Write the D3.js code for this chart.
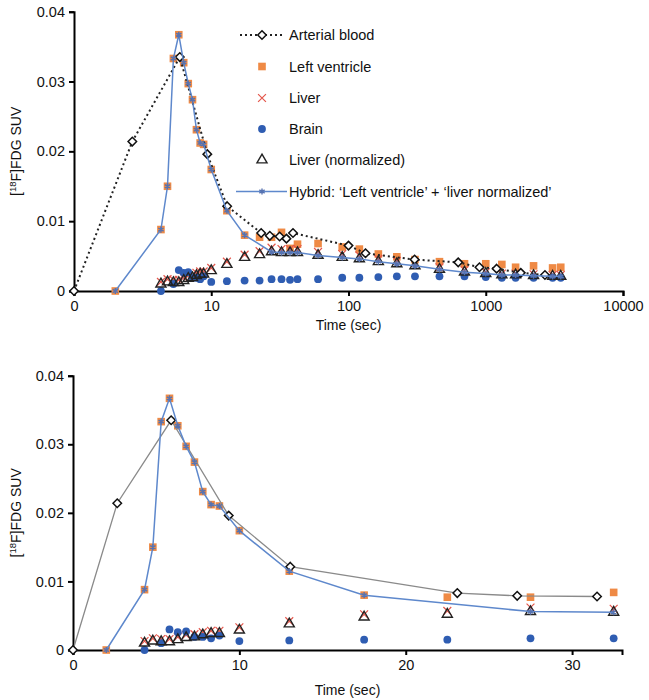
<!DOCTYPE html>
<html>
<head>
<meta charset="utf-8">
<script src="https://cdn.jsdelivr.net/npm/d3@7"></script>
<style>
  html, body { margin: 0; padding: 0; background: #fff; }
  svg { display: block; font-family: "Liberation Sans", Arial, Helvetica, sans-serif; }
</style>
</head>
<body>
<svg id="chart" width="649" height="700"></svg>
<script>
// ---------------- DATA ----------------
const tissueTime      = [2.0, 4.3, 4.8, 5.3, 5.8, 6.3, 6.8, 7.3, 7.8, 8.3, 8.8, 10, 13, 17.5, 22.5, 27.5, 32.5, 37.5, 42.5, 60, 90, 120, 165, 225, 305, 460, 700, 1000, 1310, 1650, 2230, 3070, 3520];
const leftVentricle   = [0, 0.0088, 0.0150, 0.0333, 0.0367, 0.0327, 0.0297, 0.0274, 0.0231, 0.0212, 0.0210, 0.0174, 0.0115, 0.0080, 0.0077, 0.0077, 0.0084, 0.0061, 0.0067, 0.0068, 0.0063, 0.0060, 0.0053, 0.0049, 0.0045, 0.0042, 0.0039, 0.0039, 0.0038, 0.0034, 0.0036, 0.0033, 0.0034];
const liver           = [null, 0.0013, 0.0017, 0.0016, 0.0016, 0.0019, 0.0022, 0.0023, 0.0026, 0.0028, 0.0028, 0.0033, 0.0042, 0.0052, 0.0057, 0.0062, 0.0060, 0.0060, 0.0060, 0.0056, 0.0053, 0.0051, 0.0046, 0.0043, 0.0040, 0.0034, 0.0030, 0.0027, 0.0025, 0.0025, 0.0024, 0.0023, 0.0023];
const brain           = [null, 0.0000, null, 0.0010, 0.0030, 0.0026, 0.0027, 0.0019, 0.0019, 0.0017, 0.0021, 0.0013, 0.0014, 0.0015, 0.0015, 0.0017, 0.0017, 0.0016, 0.0017, 0.0017, 0.0019, 0.0019, 0.0020, 0.0021, 0.0021, 0.0021, 0.0021, 0.0020, 0.0019, 0.0019, 0.0019, 0.0019, 0.0019];
const liverNormalized = [null, 0.0010, 0.0013, 0.0012, 0.0012, 0.0015, 0.0018, 0.0019, 0.0022, 0.0024, 0.0024, 0.0029, 0.0038, 0.0048, 0.0052, 0.0056, 0.0055, 0.0055, 0.0055, 0.0051, 0.0048, 0.0046, 0.0042, 0.0039, 0.0036, 0.0031, 0.0027, 0.0025, 0.0023, 0.0023, 0.0022, 0.0021, 0.0021];
const hybrid          = [0, 0.0088, 0.0150, 0.0333, 0.0367, 0.0327, 0.0297, 0.0274, 0.0231, 0.0212, 0.0210, 0.0174, 0.0115, 0.0080, null, 0.0056, 0.0055, 0.0055, 0.0055, 0.0051, 0.0048, 0.0046, 0.0042, 0.0039, 0.0036, 0.0031, 0.0027, 0.0025, 0.0023, 0.0023, 0.0022, 0.0021, 0.0021];

const arterialTime    = [0, 2.66, 5.9, 9.36, 13.06, 23.1, 26.7, 31.5, 35.3, 39.4, 100, 133, 303, 630, 900, 1200, 1800, 2700];
const arterialBlood   = [0, 0.0214, 0.0335, 0.0196, 0.01215, 0.0083, 0.0079, 0.0078, 0.0075, 0.0083, 0.0065, 0.0054, 0.0045, 0.0041, 0.0034, 0.0032, 0.0026, 0.0023];

const topTickValues   = [1, 10, 100, 1000, 10000];
const topTickLabels   = ["0", "10", "100", "1000", "10000"];
const bottomTicks     = [0, 10, 20, 30];
const yTicks          = [0, 0.01, 0.02, 0.03, 0.04];
const legendLabels    = ["Arterial blood", "Left ventricle", "Liver", "Brain", "Liver (normalized)", "Hybrid: \u2018Left ventricle\u2019 + \u2018liver normalized\u2019"];

// ---------------- STYLE ----------------
const C = {
  lv: "#EF8A45", liver: "#E4574C", brain: "#2F5DB2", tri: "#222",
  hybrid: "#5E88CC", hybridMark: "#5873B0", art: "#222", artGray: "#8a8a8a"
};
const S = { square: 58, x: 42, tri: 44, diamond: 46, ast: 26, r: 3.9 };

const svg = d3.select("#chart");

function zip(ts, vs) {
  return ts.map((t, i) => ({ t, v: vs[i] })).filter(d => d.v !== null && d.v !== undefined);
}

function drawPanel(g, x, y, xVal, opts) {
  const keep = d => opts.maxT === undefined || d.t <= opts.maxT;
  const lvD = zip(tissueTime, leftVentricle).filter(keep);
  const liD = zip(tissueTime, liver).filter(keep);
  const brD = zip(tissueTime, brain).filter(keep);
  const lnD = zip(tissueTime, liverNormalized).filter(keep);
  const hyD = zip(tissueTime, hybrid).filter(keep);
  const arD = zip(arterialTime, arterialBlood).filter(keep);

  const X = d => x(xVal(d.t)), Y = d => y(d.v);
  const line = d3.line().x(X).y(Y);

  // LV squares
  g.append("g").selectAll("path").data(lvD).join("path")
    .attr("transform", d => `translate(${X(d)},${Y(d)})`)
    .attr("d", d3.symbol(d3.symbolSquare, S.square)())
    .attr("fill", C.lv);
  // Liver x
  g.append("g").selectAll("path").data(liD).join("path")
    .attr("transform", d => `translate(${X(d)},${Y(d)})`)
    .attr("d", d3.symbol(d3.symbolX, S.x)())
    .attr("fill", "none").attr("stroke", C.liver).attr("stroke-width", 1.2);
  // Brain circles
  g.append("g").selectAll("circle").data(brD).join("circle")
    .attr("cx", X).attr("cy", Y).attr("r", S.r).attr("fill", C.brain);
  // Liver normalized triangles
  g.append("g").selectAll("path").data(lnD).join("path")
    .attr("transform", d => `translate(${X(d)},${Y(d)})`)
    .attr("d", d3.symbol(d3.symbolTriangle, S.tri)())
    .attr("fill", "none").attr("stroke", C.tri).attr("stroke-width", 1.4);
  // Arterial line + diamonds
  g.append("path").datum(arD).attr("d", line).attr("fill", "none")
    .attr("stroke", opts.dotted ? C.art : C.artGray)
    .attr("stroke-width", opts.dotted ? 2 : 1.3)
    .attr("stroke-dasharray", opts.dotted ? "2,3" : null);
  g.append("g").selectAll("path").data(arD).join("path")
    .attr("transform", d => `translate(${X(d)},${Y(d)})`)
    .attr("d", d3.symbol(d3.symbolDiamond2, S.diamond)())
    .attr("fill", "#fff").attr("stroke", "#111").attr("stroke-width", 1.5);
  // Hybrid line + markers
  g.append("path").datum(hyD).attr("d", line).attr("fill", "none")
    .attr("stroke", C.hybrid).attr("stroke-width", 1.5);
  g.append("g").selectAll("path").data(hyD).join("path")
    .attr("transform", d => `translate(${X(d)},${Y(d)})`)
    .attr("d", d3.symbol(d3.symbolAsterisk, S.ast)())
    .attr("fill", "none").attr("stroke", C.hybridMark).attr("stroke-width", 1.4);
}

function drawAxes(g, x, y, xAxis, y0, x0, x1, ytop, titleY) {
  const ya = g.append("g").attr("transform", `translate(${x0},0)`)
    .call(d3.axisLeft(y).tickValues(yTicks).tickFormat(d => d === 0 ? "0" : d3.format(".2f")(d)).tickSizeOuter(0).tickSize(5));
  const xa = g.append("g").attr("transform", `translate(0,${y0})`).call(xAxis);
  [ya, xa].forEach(a => {
    a.selectAll("path.domain").attr("stroke", "#000").attr("stroke-width", 2);
    a.selectAll(".tick line").attr("stroke", "#000").attr("stroke-width", 2);
    a.selectAll("text").attr("font-size", 14.5).attr("fill", "#111")
      .attr("font-family", "'Liberation Sans', Arial, sans-serif");
  });
  ya.selectAll("text").attr("x", -9);
  xa.selectAll("text").attr("y", 10);
  g.append("text").attr("x", (x0 + x1) / 2).attr("y", titleY)
    .attr("text-anchor", "middle").attr("font-size", 14).attr("fill", "#111").text("Time (sec)");
  const yl = g.append("text")
    .attr("transform", `translate(21,${(y0 + ytop) / 2}) rotate(-90)`)
    .attr("text-anchor", "middle").attr("font-size", 14).attr("fill", "#111");
  yl.append("tspan").text("[");
  yl.append("tspan").attr("font-size", 9.5).attr("dy", -5).text("18");
  yl.append("tspan").attr("dy", 5).text("F]FDG SUV");
}

// ---------------- TOP PANEL (log time) ----------------
const xTop = d3.scaleLog().domain([1, 10000]).range([74, 623]);
const yTop = d3.scaleLinear().domain([0, 0.04]).range([291, 11.7]);
const gTop = svg.append("g");
drawAxes(gTop, xTop, yTop,
  d3.axisBottom(xTop).tickValues(topTickValues).tickFormat((d, i) => topTickLabels[i]).tickSizeOuter(0).tickSize(5),
  291, 74, 623, 11.7, 330);
drawPanel(gTop, xTop, yTop, t => Math.max(t, 1), { dotted: true });

// Legend
const leg = gTop.append("g");
const legY = [35, 66.5, 98, 129, 160, 191.5];
legendLabels.forEach((lab, i) => {
  leg.append("text").attr("x", 289).attr("y", legY[i]).attr("dy", "0.36em")
    .attr("font-size", 14.5).attr("fill", "#111").text(lab);
});
leg.append("line").attr("x1", 240).attr("x2", 284).attr("y1", legY[0]).attr("y2", legY[0])
  .attr("stroke", C.art).attr("stroke-width", 2).attr("stroke-dasharray", "2,3");
leg.append("path").attr("transform", `translate(262,${legY[0]})`).attr("d", d3.symbol(d3.symbolDiamond2, S.diamond)())
  .attr("fill", "#fff").attr("stroke", "#111").attr("stroke-width", 1.5);
leg.append("path").attr("transform", `translate(262,${legY[1]})`).attr("d", d3.symbol(d3.symbolSquare, S.square)()).attr("fill", C.lv);
leg.append("path").attr("transform", `translate(262,${legY[2]})`).attr("d", d3.symbol(d3.symbolX, S.x)())
  .attr("fill", "none").attr("stroke", C.liver).attr("stroke-width", 1.2);
leg.append("circle").attr("cx", 262).attr("cy", legY[3]).attr("r", S.r).attr("fill", C.brain);
leg.append("path").attr("transform", `translate(262,${legY[4]})`).attr("d", d3.symbol(d3.symbolTriangle, S.tri)())
  .attr("fill", "none").attr("stroke", C.tri).attr("stroke-width", 1.4);
leg.append("line").attr("x1", 236).attr("x2", 287).attr("y1", legY[5]).attr("y2", legY[5])
  .attr("stroke", C.hybrid).attr("stroke-width", 1.5);
leg.append("path").attr("transform", `translate(262,${legY[5]})`).attr("d", d3.symbol(d3.symbolAsterisk, S.ast)())
  .attr("fill", "none").attr("stroke", C.hybridMark).attr("stroke-width", 1.4);

// ---------------- BOTTOM PANEL (linear time) ----------------
const xBot = d3.scaleLinear().domain([0, 33]).range([73, 622]);
const yBot = d3.scaleLinear().domain([0, 0.04]).range([650, 375.7]);
const gBot = svg.append("g");
drawAxes(gBot, xBot, yBot,
  d3.axisBottom(xBot).tickValues(bottomTicks).tickFormat(d3.format("d")).tickSizeOuter(0).tickSize(5),
  650, 73, 622, 375.7, 695);
drawPanel(gBot, xBot, yBot, t => t, { dotted: false, maxT: 33 });
</script>
</body>
</html>
